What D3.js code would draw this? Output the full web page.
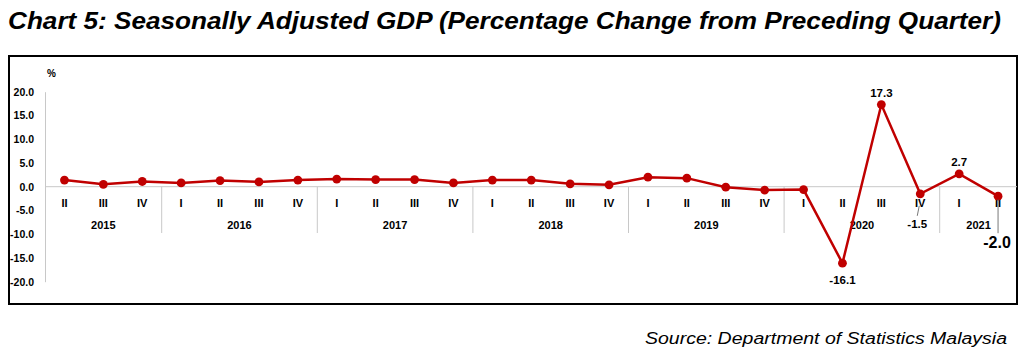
<!DOCTYPE html>
<html><head><meta charset="utf-8">
<script src="https://cdn.jsdelivr.net/npm/d3@7"></script>
<style>
html,body{margin:0;padding:0;background:#fff;}
svg{display:block;font-family:"Liberation Sans",Arial,sans-serif;}
</style></head>
<body>
<svg id="c" width="1026" height="361"></svg>
<script>
const quarters = ["II","III","IV","I","II","III","IV","I","II","III","IV","I","II","III","IV","I","II","III","IV","I","II","III","IV","I","II"];
const years = ["2015","2016","2017","2018","2019","2020","2021"];
const yearQuarterCounts = [3,4,4,4,4,4,2];
const values = [1.4,0.5,1.1,0.8,1.3,1.0,1.4,1.6,1.5,1.5,0.8,1.4,1.4,0.6,0.4,2.0,1.8,-0.1,-0.7,-0.6,-16.1,17.3,-1.5,2.7,-2.0];
const yTicks = [20,15,10,5,0,-5,-10,-15,-20];

const fmt = v => v.toFixed(1);
const svg = d3.select("#c");
const x = d3.scaleBand().domain(d3.range(values.length)).range([45,1017.5]).padding(0);
const y = d3.scaleLinear().domain([-20,20]).range([281.7,91.7]);
const red = "#C00000", grid = "#c8c8c8";

// title
svg.append("text").attr("x",8).attr("y",29).attr("font-size",23).attr("font-weight","bold")
  .attr("font-style","italic").attr("textLength",993).attr("lengthAdjust","spacingAndGlyphs")
  .text("Chart 5: Seasonally Adjusted GDP (Percentage Change from Preceding Quarter)");

// frame
svg.append("rect").attr("x",9).attr("y",56).attr("width",1008).attr("height",248)
  .attr("fill","none").attr("stroke","#000").attr("stroke-width",2);

// y axis
const yAxis = d3.axisLeft(y).tickValues(yTicks).tickFormat(fmt).tickSize(0).tickPadding(11);
const ga = svg.append("g").attr("transform","translate(45,0)").call(yAxis);
ga.select(".domain").attr("stroke",grid);
ga.selectAll("text").attr("font-size",10.5).attr("font-weight","bold").attr("fill","#000")
  .attr("font-family","Liberation Sans, Arial, sans-serif");
svg.append("text").attr("x",47).attr("y",77).attr("font-size",10).attr("font-weight","bold").text("%");

// zero line
svg.append("line").attr("x1",45).attr("x2",1017).attr("y1",y(0)).attr("y2",y(0)).attr("stroke",grid).attr("stroke-width",1);

// year groups
let cum = 0;
const bounds = [];
yearQuarterCounts.forEach((n,i)=>{ bounds.push({start:cum,end:cum+n,year:years[i]}); cum+=n; });
bounds.slice(0,-1).forEach(b=>{
  const bx = x(b.end);
  svg.append("line").attr("x1",bx).attr("x2",bx).attr("y1",y(0)).attr("y2",233).attr("stroke",grid).attr("stroke-width",1);
});

// quarter labels
svg.append("g").selectAll("text").data(quarters).join("text")
  .attr("x",(d,i)=>x(i)+x.bandwidth()/2).attr("y",207).attr("text-anchor","middle")
  .attr("font-size",11).attr("font-weight","bold").text(d=>d);

// year labels
svg.append("g").selectAll("text").data(bounds).join("text")
  .attr("x",b=>(x(b.start)+ (b.end<values.length ? x(b.end) : x(b.end-1)+x.bandwidth()))/2)
  .attr("y",229).attr("text-anchor","middle").attr("font-size",11).attr("font-weight","bold").text(b=>b.year);

// line + markers
const cx = i => x(i)+x.bandwidth()/2;
const line = d3.line().x((d,i)=>cx(i)).y(d=>y(d));
svg.append("path").datum(values).attr("d",line).attr("fill","none").attr("stroke",red).attr("stroke-width",2.5);
svg.append("g").selectAll("circle").data(values).join("circle")
  .attr("cx",(d,i)=>cx(i)).attr("cy",d=>y(d)).attr("r",4.4).attr("fill",red);

// data labels
const lab = (i, dx, dy, size) => svg.append("text").attr("x",cx(i)+dx).attr("y",y(values[i])+dy)
  .attr("text-anchor","middle").attr("font-size",size).attr("font-weight","bold").text(fmt(values[i]));
lab(20,0,21,11.5);
lab(21,0,-8,11.5);
lab(23,0,-8,11.5);
lab(22,-3,34,11.5);
lab(24,-1,52,16);
// leader lines
svg.append("line").attr("x1",cx(22)-1).attr("y1",y(values[22])+12).attr("x2",cx(22)-3).attr("y2",y(values[22])+22).attr("stroke","#555").attr("stroke-width",0.8);
svg.append("line").attr("x1",cx(24)).attr("y1",y(values[24])+3).attr("x2",cx(24)).attr("y2",y(values[24])+37).attr("stroke","#555").attr("stroke-width",0.8);

// source
svg.append("text").attr("x",645).attr("y",344).attr("font-size",16).attr("textLength",362).attr("lengthAdjust","spacingAndGlyphs")
  .attr("font-style","italic").text("Source: Department of Statistics Malaysia");
</script>
</body></html>
